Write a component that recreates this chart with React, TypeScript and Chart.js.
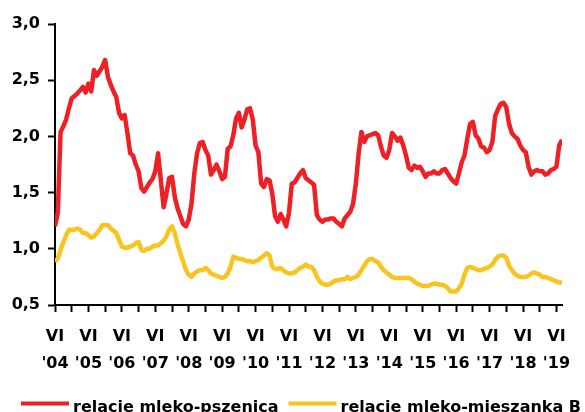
import React, { useEffect, useRef } from "react";
import { Chart, registerables } from "chart.js";

Chart.register(...registerables);

// Monthly data, June 2004 (index 0) to August 2019 (index 182)
const tickMonthLabel = "VI";
const yearLabels = ["'04", "'05", "'06", "'07", "'08", "'09", "'10", "'11", "'12", "'13", "'14", "'15", "'16", "'17", "'18", "'19"];
const seriesNames = ["relacje mleko-pszenica", "relacje mleko-mieszanka B"];

const milkWheat = [
  1.20, 1.32, 2.04, 2.09, 2.15, 2.25, 2.34, 2.36, 2.38, 2.41, 2.44, 2.39,
  2.47, 2.40, 2.59, 2.54, 2.58, 2.62, 2.68, 2.53, 2.46, 2.40, 2.35, 2.21,
  2.16, 2.19, 2.03, 1.85, 1.83, 1.75, 1.69, 1.54, 1.51, 1.55, 1.59, 1.62,
  1.69, 1.85, 1.61, 1.37, 1.49, 1.63, 1.64, 1.46, 1.36, 1.29, 1.22, 1.20,
  1.26, 1.40, 1.67, 1.85, 1.94, 1.95, 1.88, 1.83, 1.66, 1.70, 1.75, 1.69,
  1.62, 1.64, 1.89, 1.91, 2.01, 2.16, 2.21, 2.08, 2.15, 2.24, 2.25, 2.15,
  1.92, 1.86, 1.58, 1.55, 1.62, 1.61, 1.49, 1.29, 1.24, 1.31, 1.26, 1.20,
  1.32, 1.58, 1.59, 1.63, 1.67, 1.70, 1.63, 1.61, 1.59, 1.57, 1.30, 1.26,
  1.24, 1.26, 1.26, 1.27, 1.27, 1.24, 1.22, 1.20, 1.27, 1.30, 1.33, 1.40,
  1.58, 1.85, 2.04, 1.95, 2.00, 2.01, 2.02, 2.03, 2.01, 1.91, 1.83, 1.81,
  1.88, 2.03, 2.00, 1.96, 1.99, 1.92, 1.83, 1.72, 1.70, 1.74, 1.72, 1.73,
  1.69, 1.64, 1.67, 1.67, 1.69, 1.67, 1.67, 1.70, 1.71, 1.67, 1.63, 1.60,
  1.58, 1.67, 1.77, 1.83, 1.98, 2.11, 2.13, 2.01, 1.98, 1.91, 1.90, 1.86,
  1.88, 1.95, 2.18, 2.24, 2.29, 2.30, 2.26, 2.11, 2.03, 2.00, 1.98, 1.92,
  1.88, 1.86, 1.73, 1.66, 1.69, 1.70, 1.69, 1.69, 1.66, 1.67, 1.70, 1.71,
  1.73, 1.92, 1.97,
];

const milkFeed = [
  0.885, 0.915, 0.99, 1.06, 1.12, 1.17, 1.17, 1.17, 1.18, 1.17, 1.14, 1.14,
  1.12, 1.10, 1.11, 1.14, 1.17, 1.21, 1.21, 1.21, 1.18, 1.16, 1.14, 1.08,
  1.02, 1.01, 1.01, 1.02, 1.03, 1.05, 1.06, 0.99, 0.98, 1.00, 1.00, 1.02,
  1.03, 1.03, 1.05, 1.07, 1.11, 1.17, 1.20, 1.14, 1.04, 0.96, 0.89, 0.81,
  0.77, 0.75, 0.78, 0.80, 0.81, 0.81, 0.83, 0.81, 0.78, 0.77, 0.76, 0.75,
  0.74, 0.75, 0.78, 0.84, 0.93, 0.92, 0.91, 0.91, 0.90, 0.89, 0.89, 0.88,
  0.89, 0.90, 0.92, 0.94, 0.96, 0.94, 0.84, 0.82, 0.82, 0.83, 0.81, 0.79,
  0.78, 0.78, 0.79, 0.81, 0.83, 0.84, 0.86, 0.84, 0.84, 0.81, 0.75, 0.71,
  0.69, 0.68, 0.68, 0.69, 0.71, 0.72, 0.72, 0.73, 0.73, 0.75, 0.73, 0.74,
  0.75, 0.77, 0.81, 0.85, 0.89, 0.91, 0.91, 0.89, 0.88, 0.84, 0.81, 0.79,
  0.77, 0.75, 0.74, 0.74, 0.74, 0.74, 0.74, 0.74, 0.73, 0.71, 0.69, 0.68,
  0.67, 0.67, 0.67, 0.68, 0.69, 0.69, 0.68, 0.68, 0.67, 0.65, 0.62, 0.62,
  0.62, 0.65, 0.69, 0.77, 0.83, 0.84, 0.83, 0.82, 0.81, 0.81, 0.82, 0.83,
  0.84, 0.86, 0.90, 0.93, 0.94, 0.94, 0.92, 0.85, 0.81, 0.78, 0.76, 0.75,
  0.75, 0.75, 0.76, 0.78, 0.79, 0.78, 0.77, 0.75, 0.75, 0.74, 0.73, 0.72,
  0.71, 0.70, 0.70,
];

const yMin = 0.5;
const yMax = 3.0;
const yStep = 0.5;
const xTickEvery = 6;

const RED = "#EE1F25";
const YELLOW = "#F8C421";
const FONT = "'DejaVu Sans', sans-serif";

const legendPlugin = {
  id: "bottomLegend",
  afterDraw(chart: any) {
    const ctx = chart.ctx;
    const h = chart.height;
    ctx.save();
    ctx.font = `bold 16px ${FONT}`;
    ctx.textBaseline = "alphabetic";
    ctx.textAlign = "left";
    let x = 21;
    const lineY = h - 8.5;
    const textY = h - 0.5;
    chart.data.datasets.forEach((ds: any) => {
      ctx.strokeStyle = ds.borderColor;
      ctx.lineWidth = 4;
      ctx.lineCap = "butt";
      ctx.beginPath();
      ctx.moveTo(x, lineY);
      ctx.lineTo(x + 48, lineY);
      ctx.stroke();
      x += 52;
      ctx.fillStyle = "#000";
      ctx.fillText(ds.label, x, textY);
      x += ctx.measureText(ds.label).width + 10;
    });
    ctx.restore();
  },
};

export default function App() {
  const canvasRef = useRef<HTMLCanvasElement | null>(null);

  useEffect(() => {
    if (!canvasRef.current) return;
    const chart = new Chart(canvasRef.current, {
      type: "line",
      data: {
        datasets: [
          {
            label: seriesNames[0],
            data: milkWheat.map((y, i) => ({ x: i, y })),
            borderColor: RED,
            backgroundColor: RED,
            borderWidth: 4.5,
            pointRadius: 0,
            tension: 0,
            borderJoinStyle: "round",
          },
          {
            label: seriesNames[1],
            data: milkFeed.map((y, i) => ({ x: i, y })),
            borderColor: YELLOW,
            backgroundColor: YELLOW,
            borderWidth: 4.5,
            pointRadius: 0,
            tension: 0,
            borderJoinStyle: "round",
          },
        ],
      },
      options: {
        animation: false,
        responsive: false,
        layout: { padding: { left: 12, right: 23, top: 24, bottom: 37 } },
        plugins: {
          legend: { display: false },
          tooltip: { enabled: false },
        },
        scales: {
          x: {
            type: "linear",
            min: 0,
            max: milkWheat.length - 1,
            afterBuildTicks: (axis: any) => {
              const t = [];
              for (let v = 0; v <= axis.max; v += xTickEvery) t.push({ value: v });
              axis.ticks = t;
            },
            afterFit: (axis: any) => {
              axis.height = 70;
            },
            border: { display: true, color: "#000", width: 2 },
            grid: {
              drawOnChartArea: false,
              drawTicks: true,
              tickLength: 7,
              tickWidth: 2,
              tickColor: "#000",
            },
            ticks: {
              autoSkip: false,
              maxRotation: 0,
              padding: 11,
              color: "#000",
              font: { family: FONT, size: 16, weight: "bold", lineHeight: 1.7 },
              callback: (v: any) => {
                const n = Number(v);
                if (n % 12 !== 0) return "";
                return [tickMonthLabel, yearLabels[n / 12]];
              },
            },
          },
          y: {
            min: yMin,
            max: yMax,
            afterFit: (axis: any) => {
              axis.width = 43;
            },
            border: { display: true, color: "#000", width: 2 },
            grid: {
              drawOnChartArea: false,
              drawTicks: true,
              tickLength: 7,
              tickWidth: 2,
              tickColor: "#000",
            },
            ticks: {
              stepSize: yStep,
              padding: 8,
              color: "#000",
              font: { family: FONT, size: 16, weight: "bold" },
              callback: (v: any) => Number(v).toFixed(1).replace(".", ","),
            },
          },
        },
      },
      plugins: [legendPlugin],
    });
    return () => chart.destroy();
  }, []);

  return (
    <div style={{ position: "fixed", left: 0, top: 0, width: 585, height: 412, background: "#fff" }}>
      <canvas ref={canvasRef} width={585} height={412} style={{ display: "block" }} />
    </div>
  );
}
